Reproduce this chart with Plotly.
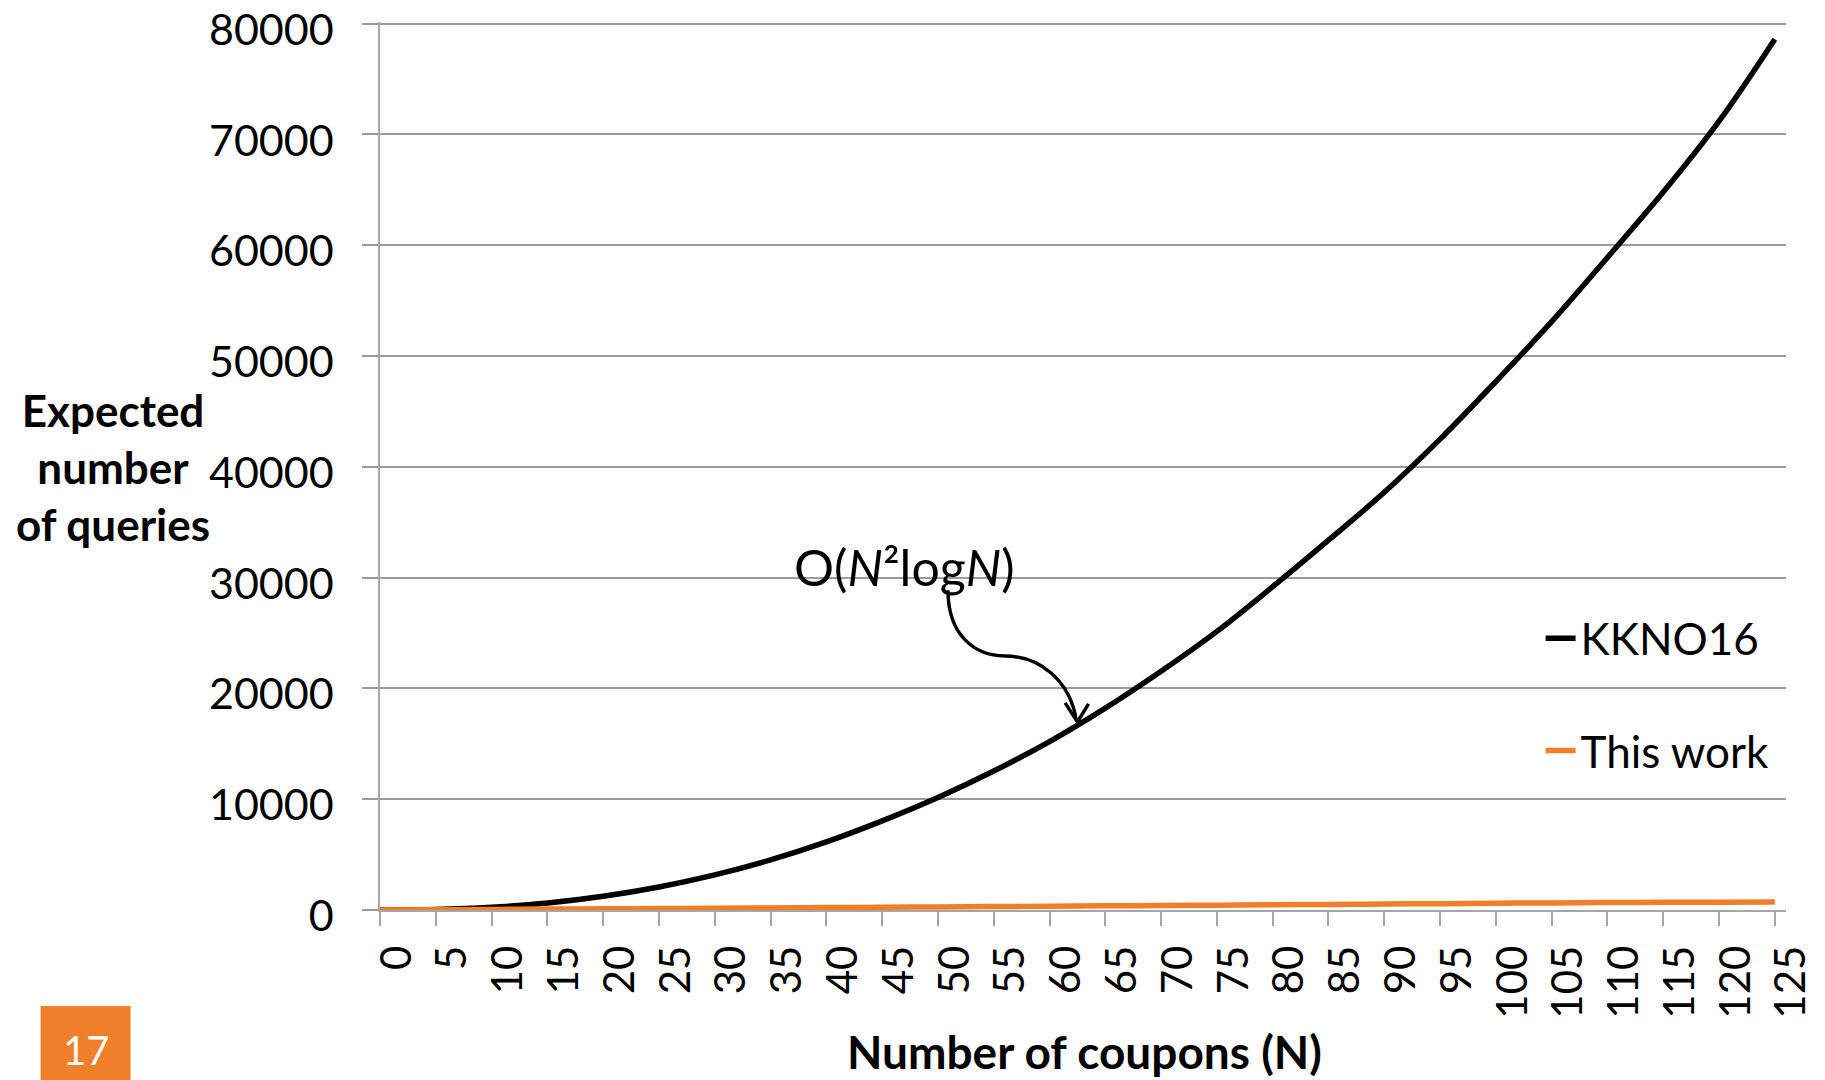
import plotly.graph_objects as go

# ---------------- data ----------------
coupons = list(range(0, 130, 5))  # N = 0 .. 125
kkno16 = [0, 40, 240, 630, 1240, 2080, 3170, 4520, 6140, 8040, 10150, 12540, 15200,
          18220, 21550, 25150, 29180, 33380, 37700, 42500, 47700, 53100, 58900,
          64800, 71200, 78600]
this_work = [0, 30, 55, 80, 105, 130, 155, 185, 215, 245, 280, 310, 345, 375, 405,
             440, 470, 505, 540, 575, 610, 640, 670, 690, 705, 715]
x_ticks = list(range(0, 130, 5))
y_ticks = list(range(0, 80001, 10000))

series_names = ["KKNO16", "This work"]
x_title = "Number of coupons (N)"
y_title = "Expected<br>number<br>of queries"
note_text = "O(<i>N</i>²log<i>N</i>)"
page_number = "17"

# ---------------- layout geometry ----------------
W, H = 1825, 1080
L, R, T, B = 380, 38.5, 21.5, 170
PW, PH = W - L - R, H - T - B
X_RANGE = [0, 126]
Y_RANGE = [0, 80150]

def px_to_paper(px, py):
    return (px - L) / PW, (H - B - py) / PH

FONT = "Lato, 'Open Sans', sans-serif"
GRID = "#9a9a9a"
ORANGE = "#F07F2A"

fig = go.Figure()
fig.add_trace(go.Scatter(x=coupons, y=kkno16, mode="lines", name=series_names[0],
                         line=dict(color="black", width=5.5, shape="spline"),
                         legendgroup="a"))
fig.add_trace(go.Scatter(x=coupons, y=this_work, mode="lines", name=series_names[1],
                         line=dict(color=ORANGE, width=5.5, shape="spline"),
                         legendgroup="b"))

fig.update_layout(
    width=W, height=H,
    margin=dict(l=L, r=R, t=T, b=B, autoexpand=False),
    paper_bgcolor="white", plot_bgcolor="white",
    font=dict(family=FONT, color="black"),
    showlegend=True,
    legend=dict(x=px_to_paper(1541, 0)[0], y=px_to_paper(0, 603)[1],
                xanchor="left", yanchor="top",
                font=dict(size=44, family=FONT, color="black"),
                tracegroupgap=52, traceorder="grouped",
                bgcolor="rgba(0,0,0,0)"),
)

fig.update_xaxes(
    range=X_RANGE, tickmode="array", tickvals=x_ticks,
    ticktext=[str(v) for v in x_ticks], automargin=False,
    tickangle=-90, tickfont=dict(size=42, family=FONT, color="black"),
    ticks="outside", ticklen=14, tickwidth=1.5, tickcolor="#a6a6a6",
    showline=True, linecolor="#a6a6a6", linewidth=1.5,
    showgrid=False, zeroline=False, ticklabelstandoff=3, ticklabelshift=17,
    ticklabeloverflow="allow",
)
fig.update_yaxes(
    range=Y_RANGE, tickmode="array", tickvals=y_ticks,
    ticktext=[str(v) for v in y_ticks], automargin=False,
    tickfont=dict(size=43, family=FONT, color="black"),
    ticks="outside", ticklen=16, tickwidth=1.5, tickcolor=GRID,
    showline=True, linecolor="#a8a8a8", linewidth=1.5,
    showgrid=True, gridcolor=GRID, gridwidth=1.7, zeroline=False,
    ticklabelstandoff=20, ticklabelshift=6, ticklabeloverflow="allow",
)

# axis titles (horizontal y title like the reference)
yx, yy = px_to_paper(112.5, 467)
fig.add_annotation(text=f"<b>{y_title}</b>", xref="paper", yref="paper",
                   x=yx, y=yy, xanchor="center", yanchor="middle",
                   showarrow=False, align="center",
                   font=dict(size=44, family=FONT, color="black"))
xx, xy = px_to_paper(1085, 1052)
fig.add_annotation(text=f"<b>{x_title}</b>", xref="paper", yref="paper",
                   x=xx, y=xy, xanchor="center", yanchor="middle",
                   showarrow=False, font=dict(size=46, family=FONT, color="black"))

# complexity note with curved arrow (in data coordinates)
fig.add_annotation(text=note_text, xref="x", yref="y", x=36.9, y=31000,
                   xanchor="left", yanchor="middle", showarrow=False,
                   font=dict(size=50, family=FONT, color="black"))
arrow_path = ("M 50.9,28870 C 50.9,24815 53.3,22922 56.0,22922 "
              "C 59.1,22922 61.8,20758 62.4,17151")
fig.add_shape(type="path", path=arrow_path, xref="x", yref="y",
              line=dict(color="black", width=3.4))
fig.add_shape(type="path", path="M 61.4,18700 L 62.5,16970 L 63.5,18600",
              xref="x", yref="y", line=dict(color="black", width=3.4))

# slide number box
bx0, by0 = px_to_paper(40.5, 1006)
bx1, by1 = px_to_paper(130.5, 1080)
fig.add_shape(type="rect", xref="paper", yref="paper", x0=bx0, x1=bx1, y0=by1, y1=by0,
              fillcolor=ORANGE, line=dict(width=0), layer="above")
nx, ny = px_to_paper(86, 1050)
fig.add_annotation(text=page_number, xref="paper", yref="paper", x=nx, y=ny,
                   xanchor="center", yanchor="middle", showarrow=False,
                   font=dict(size=40, family=FONT, color="white"))

fig.write_html("out.html")
